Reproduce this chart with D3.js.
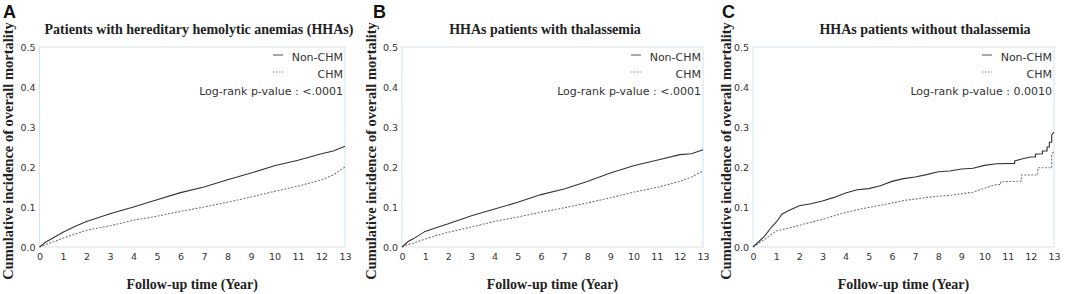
<!DOCTYPE html>
<html>
<head>
<meta charset="utf-8">
<script src="https://cdn.jsdelivr.net/npm/d3@7"></script>
<style>
  body { margin: 0; background: #fff; }
  svg { display: block; }
</style>
</head>
<body>
<div id="chart"></div>
<script>
// data (years, cumulative incidence)
const years = [0, 0.25, 0.5, 1, 1.5, 2, 3, 4, 5, 6, 7, 8, 9, 10, 11, 12, 12.5, 13];
const aNonChm = [0, 0.012, 0.02, 0.037, 0.051, 0.064, 0.083, 0.100, 0.118, 0.136, 0.150, 0.168, 0.185, 0.203, 0.217, 0.233, 0.240, 0.252];
const aChm    = [0, 0.006, 0.011, 0.022, 0.032, 0.042, 0.053, 0.067, 0.077, 0.089, 0.100, 0.112, 0.125, 0.139, 0.152, 0.168, 0.180, 0.200];
const bNonChm = [0, 0.013, 0.021, 0.039, 0.049, 0.058, 0.078, 0.095, 0.112, 0.131, 0.145, 0.164, 0.185, 0.203, 0.217, 0.231, 0.233, 0.243];
const bChm    = [0, 0.006, 0.010, 0.020, 0.029, 0.037, 0.050, 0.064, 0.075, 0.087, 0.098, 0.110, 0.123, 0.137, 0.149, 0.164, 0.175, 0.190];

// panel C: repeated years mark the visible jumps
const cNonYears = [0, 0.5, 0.8, 1.0, 1.25, 1.5, 2, 2.5, 3, 3.5, 4, 4.5, 5, 5.5, 6, 6.5, 7, 7.5, 8, 8.5, 9, 9.5, 10, 10.5, 11.3, 11.3, 11.6, 12, 12.2, 12.2, 12.5, 12.5, 12.7, 12.7, 12.8, 12.8, 12.9, 12.9, 13];
const cNonChm   = [0, 0.027, 0.05, 0.062, 0.082, 0.09, 0.103, 0.108, 0.115, 0.124, 0.135, 0.143, 0.146, 0.153, 0.164, 0.171, 0.175, 0.181, 0.188, 0.19, 0.195, 0.197, 0.204, 0.208, 0.209, 0.215, 0.22, 0.225, 0.225, 0.232, 0.233, 0.24, 0.24, 0.25, 0.25, 0.262, 0.262, 0.28, 0.287];
const cChmYears = [0, 0.5, 1, 1.5, 2, 2.5, 3, 3.5, 4, 4.5, 5, 5.5, 6, 6.5, 7, 7.5, 8, 8.5, 9, 9.5, 10, 10.5, 10.7, 10.7, 11.3, 11.6, 11.6, 12.3, 12.3, 12.9, 12.9, 13];
const cChm      = [0, 0.019, 0.04, 0.047, 0.054, 0.062, 0.069, 0.078, 0.086, 0.093, 0.099, 0.104, 0.11, 0.116, 0.12, 0.124, 0.127, 0.129, 0.133, 0.137, 0.147, 0.156, 0.156, 0.163, 0.164, 0.165, 0.18, 0.18, 0.198, 0.198, 0.23, 0.24];

const xTicks = d3.range(0, 14);
const yTicks = [0, 0.1, 0.2, 0.3, 0.4, 0.5];

const panels = [
  { tag: 'A', title: 'Patients with hereditary hemolytic anemias (HHAs)', pval: '<.0001',
    non: years.map((t, i) => [t, aNonChm[i]]), chm: years.map((t, i) => [t, aChm[i]]),
    x0: 39.5, x1: 345, tagX: 3, ylabX: 8, titleX: 199 },
  { tag: 'B', title: 'HHAs patients with thalassemia', pval: '<.0001',
    non: years.map((t, i) => [t, bNonChm[i]]), chm: years.map((t, i) => [t, bChm[i]]),
    x0: 402, x1: 703, tagX: 373, ylabX: 371, titleX: 545 },
  { tag: 'C', title: 'HHAs patients without thalassemia', pval: '0.0010',
    non: cNonYears.map((t, i) => [t, cNonChm[i]]), chm: cChmYears.map((t, i) => [t, cChm[i]]),
    x0: 753, x1: 1054, tagX: 722, ylabX: 726, titleX: 925 }
];

const width = 1065, height = 294;
const svg = d3.select('#chart').append('svg')
  .attr('width', width)
  .attr('height', height);

panels.forEach(p => {
  const x = d3.scaleLinear().domain([0, 13]).range([p.x0, p.x1]);
  const y = d3.scaleLinear().domain([0, 0.5]).range([247, 47]);
  const g = svg.append('g');

  // frame
  g.append('rect')
    .attr('x', x(0)).attr('y', y(0.5))
    .attr('width', x(13) - x(0)).attr('height', y(0) - y(0.5))
    .attr('fill', 'none')
    .attr('stroke', '#d5e2e8')
    .attr('stroke-width', 1);

  // axes (labels only)
  const xAxis = g.append('g')
    .attr('transform', `translate(0,${y(0)})`)
    .call(d3.axisBottom(x).tickValues(xTicks).tickSize(0).tickPadding(6).tickFormat(d3.format('d')));
  xAxis.select('.domain').remove();
  xAxis.selectAll('text')
    .attr('fill', '#333')
    .style('font-family', '"DejaVu Sans", sans-serif')
    .style('font-size', '9.5px');

  const yAxis = g.append('g')
    .attr('transform', `translate(${x(0)},0)`)
    .call(d3.axisLeft(y).tickValues(yTicks).tickSize(0).tickPadding(4).tickFormat(d3.format('.1f')));
  yAxis.select('.domain').remove();
  yAxis.selectAll('text')
    .attr('fill', '#333')
    .style('font-family', '"DejaVu Sans", sans-serif')
    .style('font-size', '9.5px');

  // curves
  const line = d3.line()
    .x(d => x(d[0]))
    .y(d => y(d[1]));

  g.append('path')
    .datum(p.chm)
    .attr('d', line)
    .attr('fill', 'none')
    .attr('stroke', '#777')
    .attr('stroke-width', 1.1)
    .attr('stroke-dasharray', '2,1.5');

  g.append('path')
    .datum(p.non)
    .attr('d', line)
    .attr('fill', 'none')
    .attr('stroke', '#333')
    .attr('stroke-width', 1.1);

  // legend
  const lx = x(13) - 2;
  const legFont = '"DejaVu Sans", sans-serif';
  g.append('text').attr('x', lx).attr('y', 61)
    .attr('text-anchor', 'end').attr('fill', '#333')
    .style('font-family', legFont).style('font-size', '11px')
    .text('Non-CHM');
  g.append('line')
    .attr('x1', lx - 70).attr('x2', lx - 60).attr('y1', 55).attr('y2', 55)
    .attr('stroke', '#555').attr('stroke-width', 1);
  g.append('text').attr('x', lx).attr('y', 78)
    .attr('text-anchor', 'end').attr('fill', '#333')
    .style('font-family', legFont).style('font-size', '11px')
    .text('CHM');
  g.append('line')
    .attr('x1', lx - 70).attr('x2', lx - 60).attr('y1', 72).attr('y2', 72)
    .attr('stroke', '#888').attr('stroke-width', 1).attr('stroke-dasharray', '1.5,1.5');
  g.append('text').attr('x', lx).attr('y', 95)
    .attr('text-anchor', 'end').attr('fill', '#333')
    .style('font-family', legFont).style('font-size', '11px')
    .text('Log-rank p-value : ' + p.pval);

  // titles
  g.append('text').attr('x', p.titleX).attr('y', 34)
    .attr('text-anchor', 'middle').attr('fill', '#222')
    .style('font-family', '"Liberation Serif", "Times New Roman", serif')
    .style('font-weight', 'bold').style('font-size', '14px')
    .text(p.title);

  g.append('text').attr('x', p.tagX).attr('y', 18)
    .attr('fill', '#111')
    .style('font-family', '"Liberation Sans", Arial, sans-serif')
    .style('font-weight', 'bold').style('font-size', '18px')
    .text(p.tag);

  g.append('text')
    .attr('transform', `translate(${p.ylabX + 5},151) rotate(-90)`)
    .attr('text-anchor', 'middle').attr('fill', '#222')
    .style('font-family', '"Liberation Serif", "Times New Roman", serif')
    .style('font-weight', 'bold').style('font-size', '14.5px')
    .text('Cumulative incidence of overall mortality');

  g.append('text').attr('x', (x(0) + x(13)) / 2).attr('y', 289)
    .attr('text-anchor', 'middle').attr('fill', '#222')
    .style('font-family', '"Liberation Serif", "Times New Roman", serif')
    .style('font-weight', 'bold').style('font-size', '14px')
    .text('Follow-up time (Year)');
});
</script>
</body>
</html>
